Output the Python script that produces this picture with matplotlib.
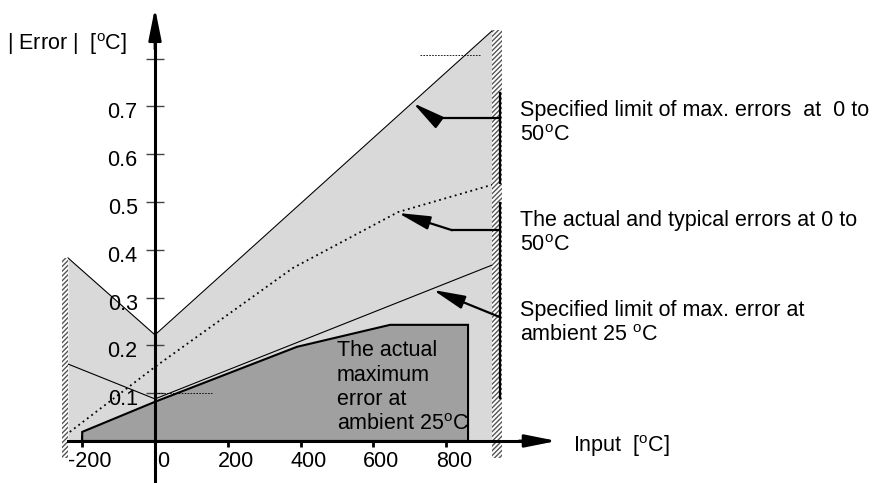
import numpy as np
import matplotlib
matplotlib.use('Agg')
import matplotlib.pyplot as plt
from matplotlib.patches import Rectangle, Polygon
from matplotlib.transforms import ScaledTranslation

plt.rcParams['font.family'] = ['Liberation Sans', 'DejaVu Sans']
plt.rcParams['mathtext.fontset'] = 'custom'
plt.rcParams['mathtext.rm'] = 'Liberation Sans'
plt.rcParams['hatch.linewidth'] = 1.0

# --- data (input in degC, |error| in degC) ---
# specified limit of max. errors at 0 to 50 degC
upper_x = [-239, 0, 926]
upper_y = [0.383, 0.222, 0.858]
# specified limit of max. error at ambient 25 degC
amb_x = [-239, 0, 926]
amb_y = [0.161, 0.088, 0.368]
# actual and typical errors at 0 to 50 degC
typ_x = [-234, 0, 379, 668, 926]
typ_y = [0.019, 0.155, 0.362, 0.479, 0.536]
# actual maximum error at ambient 25 degC
act_x = [-200, -200, 0, 390, 646, 860, 860]
act_y = [0.0, 0.019, 0.082, 0.197, 0.243, 0.243, 0.0]

xticks = [-200, 0, 200, 400, 600, 800]
yticks = [0.1, 0.2, 0.3, 0.4, 0.5, 0.6, 0.7, 0.8]
yticklabels = ['0.1', '0.2', '0.3', '0.4', '0.5', '0.6', '0.7', '']

deg = '$^{\\rm o}$C'

fig = plt.figure(figsize=(8.74, 4.83), dpi=100)
ax = fig.add_axes([0, 0, 1, 1])
ax.set_xlim(-425.8, 1975.3)
ax.set_ylim(-0.0879, 0.9226)

# shaded areas
ax.fill_between(upper_x, 0, upper_y, color='#d9d9d9', lw=0, zorder=1)
ax.add_patch(Polygon(np.column_stack([act_x, act_y]), closed=True,
                     facecolor='#a0a0a0', edgecolor='k', lw=1.5, zorder=2))

# lines
ax.plot(upper_x, upper_y, color='k', lw=0.8, zorder=3)
ax.plot(amb_x, amb_y, color='k', lw=0.8, zorder=3)
ax.plot(typ_x, typ_y, color='k', lw=1.3, ls=(0, (1, 2)), zorder=3)

# small dashed guide lines
ax.plot([0, 157], [0.1, 0.1], color='k', lw=0.6, ls=(0, (2, 1.5)), zorder=3)
ax.plot([728, 893], [0.808, 0.808], color='k', lw=0.6, ls=(0, (2, 1.5)), zorder=3)

# hatched walls
for x0, y0, w, h in [(-255, -0.036, 16, 0.419), (926, -0.036, 27, 0.896)]:
    ax.add_patch(Rectangle((x0, y0), w, h, facecolor='white', edgecolor='#555555',
                           hatch='///////', lw=0.0, zorder=4))

# axes as spines with arrow heads
for s in ['top', 'right']:
    ax.spines[s].set_visible(False)
ax.spines['left'].set_position(('data', 0))
ax.spines['bottom'].set_position(('data', 0))
ax.spines['left'].set_bounds(-0.0879, 0.86)
ax.spines['bottom'].set_bounds(-239, 1040)
ax.spines['left'].set_linewidth(2.2)
ax.spines['bottom'].set_linewidth(2.2)
ax.spines['left'].set_zorder(6)
ax.spines['bottom'].set_zorder(6)
ax.annotate('', xy=(0, 0.906), xytext=(0, 0.82),
            arrowprops=dict(arrowstyle='-|>,head_length=1.6,head_width=0.32',
                            mutation_scale=12, lw=2, color='k', shrinkA=0, shrinkB=0),
            zorder=6)
ax.annotate('', xy=(1104, 0), xytext=(1000, 0),
            arrowprops=dict(arrowstyle='-|>,head_length=1.6,head_width=0.32',
                            mutation_scale=12, lw=2, color='k', shrinkA=0, shrinkB=0),
            zorder=6)

fs = 15.5
ax.set_xticks(xticks)
ax.set_xticklabels([str(v) for v in xticks])
ax.set_yticks(yticks)
ax.set_yticklabels(yticklabels)
ax.tick_params(axis='x', direction='inout', length=8, width=2, pad=3, labelsize=fs)
ax.tick_params(axis='y', direction='inout', length=13, width=1, color='#444444',
               pad=6, labelsize=fs)
for lab in ax.get_xticklabels():
    lab.set_transform(lab.get_transform() + ScaledTranslation(0.08, 0, fig.dpi_scale_trans))
for lab in ax.get_yticklabels():
    lab.set_transform(lab.get_transform() + ScaledTranslation(0, -0.04, fig.dpi_scale_trans))

# annotation arrows from the right wall
akw = dict(arrowstyle='-|>,head_length=1.5,head_width=0.32', mutation_scale=13,
           lw=1.6, color='k', shrinkA=0, shrinkB=0)
ax.plot([764, 948], [0.676, 0.676], color='k', lw=1.6, zorder=5)
ax.annotate('', xy=(709, 0.707), xytext=(764, 0.676), arrowprops=akw, zorder=5)
ax.plot([816, 948], [0.441, 0.441], color='k', lw=1.6, zorder=5)
ax.annotate('', xy=(668, 0.477), xytext=(816, 0.441), arrowprops=akw, zorder=5)
ax.annotate('', xy=(764, 0.316), xytext=(948, 0.259), arrowprops=akw, zorder=5)
ax.plot([948, 948], [0.540, 0.728], color='k', lw=1.6, zorder=5)
ax.plot([948, 948], [0.090, 0.498], color='k', lw=1.6, zorder=5)

# texts
ls = 1.22
ax.text(-407, 0.818, '| Error |  [' + deg + ']', fontsize=fs, va='baseline', ha='left')
ax.text(1148, -0.023, 'Input  [' + deg + ']', fontsize=fs, va='baseline', ha='left')
ax.text(1003, 0.713, 'Specified limit of max. errors  at  0 to\n50' + deg,
        fontsize=fs, va='top', ha='left', linespacing=ls)
ax.text(1003, 0.483, 'The actual and typical errors at 0 to\n50' + deg,
        fontsize=fs, va='top', ha='left', linespacing=ls)
ax.text(1003, 0.295, 'Specified limit of max. error at\nambient 25 ' + deg,
        fontsize=fs, va='top', ha='left', linespacing=ls)
ax.text(500, 0.211, 'The actual\nmaximum\nerror at\nambient 25' + deg,
        fontsize=fs, va='top', ha='left', linespacing=ls, zorder=5)

fig.savefig('out.png', dpi=100)
